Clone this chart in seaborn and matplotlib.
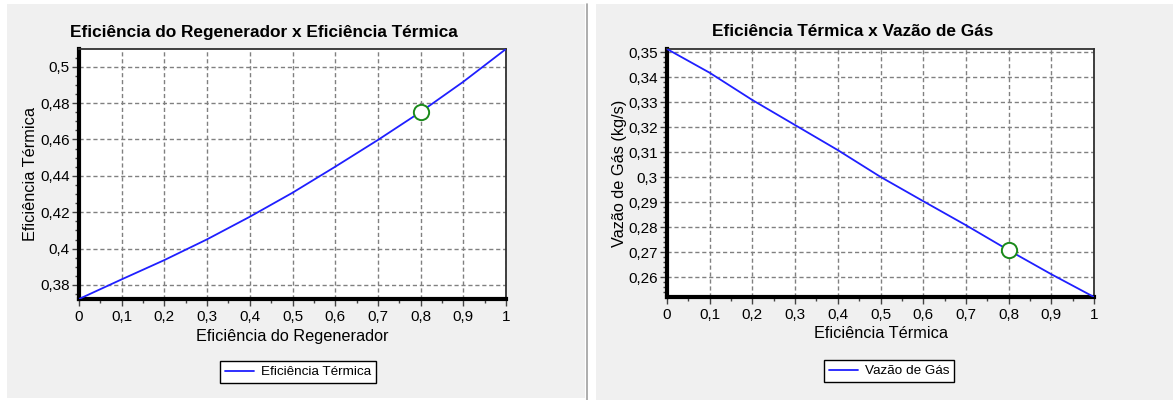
import matplotlib
matplotlib.use("Agg")
import matplotlib.pyplot as plt
import matplotlib.ticker as mticker
from matplotlib.patches import Rectangle
from matplotlib.lines import Line2D
import numpy as np
import pandas as pd
import seaborn as sns

# ---- data ----
regen_eff = [0.0, 0.1, 0.2, 0.3, 0.4, 0.5, 0.6, 0.7, 0.8, 0.9, 1.0]
thermal_eff = [0.3723, 0.3831, 0.3937, 0.4051, 0.4175, 0.4307, 0.4450, 0.4597, 0.4751, 0.4917, 0.5097]
therm_x = [0.0, 0.1, 0.2, 0.3, 0.4, 0.5, 0.6, 0.7, 0.8, 0.9, 1.0]
gas_flow = [0.3513, 0.3418, 0.3309, 0.3209, 0.3109, 0.3002, 0.2905, 0.2809, 0.2709, 0.2613, 0.2522]
point_left = (0.8, 0.4751)
point_right = (0.8, 0.2709)

titles = ["Eficiência do Regenerador x Eficiência Térmica", "Eficiência Térmica x Vazão de Gás"]
xlabels = ["Eficiência do Regenerador", "Eficiência Térmica"]
ylabels = ["Eficiência Térmica", "Vazão de Gás (kg/s)"]
legend_labels = ["Eficiência Térmica", "Vazão de Gás"]
x_ticks = [0, 0.1, 0.2, 0.3, 0.4, 0.5, 0.6, 0.7, 0.8, 0.9, 1]
y_ticks_left = [0.38, 0.40, 0.42, 0.44, 0.46, 0.48, 0.50]
y_ticks_right = [0.26, 0.27, 0.28, 0.29, 0.30, 0.31, 0.32, 0.33, 0.34, 0.35]

sns.set_style("ticks")
plt.rcParams['font.family'] = ['Liberation Sans', 'DejaVu Sans']
plt.rcParams['text.color'] = 'black'
plt.rcParams['axes.labelcolor'] = 'black'
plt.rcParams['xtick.labelcolor'] = 'black'
plt.rcParams['ytick.labelcolor'] = 'black'

W, H = 1173, 400
fig = plt.figure(figsize=(W / 100, H / 100), dpi=100)
fig.patch.set_facecolor("white")

def px_rect(x0, y0, x1, y1):
    return [x0 / W, 1 - y1 / H, (x1 - x0) / W, (y1 - y0) / H]

# panel backgrounds
fig.patches.append(Rectangle((7 / W, 1 - 398 / H), (585 - 7) / W, (398 - 4) / H,
                             transform=fig.transFigure, facecolor="#f0f0f0", edgecolor="none", zorder=-10))
fig.patches.append(Rectangle((596 / W, 0), (1173 - 596) / W, (400 - 4) / H,
                             transform=fig.transFigure, facecolor="#f0f0f0", edgecolor="none", zorder=-10))
fig.lines.append(Line2D([586.5 / W, 586.5 / W], [0, 1 - 4 / H], transform=fig.transFigure,
                        color="#a0a0a0", lw=1.2, zorder=-9))

ax1 = fig.add_axes(px_rect(79, 49, 506, 299))
ax2 = fig.add_axes(px_rect(667, 49, 1094, 297))
ax1.set_zorder(2)
ax2.set_zorder(2)

df1 = pd.DataFrame({"x": regen_eff, "y": thermal_eff})
df2 = pd.DataFrame({"x": therm_x, "y": gas_flow})

fmt = mticker.FuncFormatter(lambda v, p: ("%g" % round(v, 4)).replace(".", ","))

configs = [
    (ax1, df1, point_left, y_ticks_left, (0.3723, 0.5097), 0.005),
    (ax2, df2, point_right, y_ticks_right, (0.2522, 0.3513), 0.002),
]
for i, (ax, df, pt, yt, ylim, yminor) in enumerate(configs):
    ax.set_facecolor("white")
    sns.lineplot(data=df, x="x", y="y", ax=ax, color="#1f1fff", lw=1.3,
                 label=legend_labels[i], legend=False, zorder=3)
    ax.plot([pt[0]], [pt[1]], marker="o", ms=11, mfc="white", mec="#1a8a1a", mew=1.4,
            ls="none", zorder=4)
    ax.set_xlim(0, 1)
    ax.set_ylim(*ylim)
    ax.set_xticks(x_ticks)
    ax.set_yticks(yt)
    ax.xaxis.set_minor_locator(mticker.MultipleLocator(0.05))
    ax.yaxis.set_minor_locator(mticker.MultipleLocator(yminor))
    ax.xaxis.set_major_formatter(fmt)
    ax.yaxis.set_major_formatter(fmt)
    ax.grid(True, which="major", ls=(0, (3, 2)), color="#808080", lw=1.0)
    ax.tick_params(axis="both", which="major", labelsize=11, length=5, width=1, color="#444444", pad=1.5)
    ax.tick_params(axis="x", which="major", pad=3)
    ax.tick_params(axis="both", which="minor", length=3, width=1, color="#444444")
    for s in ["left", "bottom"]:
        ax.spines[s].set_linewidth(3)
        ax.spines[s].set_color("black")
    for s in ["top", "right"]:
        ax.spines[s].set_linewidth(1.3)
        ax.spines[s].set_color("#303030")
    ax.set_xlabel("")
    ax.set_ylabel("")

# titles and labels (pixel placements)
def ftext(x, y, s, **kw):
    fig.text(x / W, 1 - y / H, s, ha="center", va="center", **kw)

ftext(263.5, 32, titles[0], fontsize=12.4, fontweight="bold")
ftext(852.5, 32, titles[1], fontsize=12.4, fontweight="bold")
ftext(292.5, 336, xlabels[0], fontsize=11.7)
ftext(881, 334, xlabels[1], fontsize=11.7)
ftext(31, 174, ylabels[0], fontsize=11.7, rotation=90)
ftext(619, 173, ylabels[1], fontsize=11.7, rotation=90)

# legends
for ax, lab, cx, cy in [(ax1, legend_labels[0], 298, 372), (ax2, legend_labels[1], 889, 371)]:
    handle = Line2D([], [], color="#1f1fff", lw=1.3)
    fig.legend([handle], [lab], loc="center", bbox_to_anchor=(cx / W, 1 - cy / H),
               fontsize=9.7, frameon=True, fancybox=False, edgecolor="black",
               facecolor="white", framealpha=1, handlelength=2.2, borderpad=0.35,
               handletextpad=0.5)

fig.savefig("out.png", dpi=100, facecolor=fig.get_facecolor())
